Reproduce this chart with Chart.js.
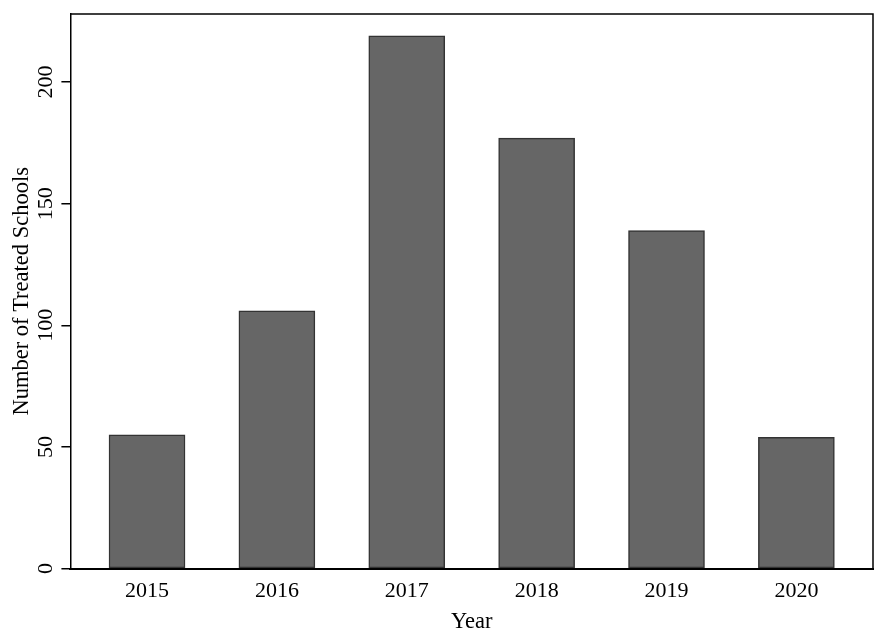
<!DOCTYPE html>
<html>
<head>
<meta charset="utf-8">
<script src="https://cdn.jsdelivr.net/npm/chart.js@4/dist/chart.umd.min.js"></script>
<style>
  html, body { margin: 0; padding: 0; background: #ffffff; }
  #wrap { width: 886px; height: 638px; position: relative; }
</style>
</head>
<body>
<div id="wrap"><canvas id="c" width="886" height="638"></canvas></div>
<script>
const years = [2015, 2016, 2017, 2018, 2019, 2020];
const treatedSchools = [55, 106, 219, 177, 139, 54];
const yTicks = [0, 50, 100, 150, 200];
const xTitle = "Year";
const yTitle = "Number of Treated Schools";

const FONT = "'Liberation Serif', 'Times New Roman', serif";

const framePlugin = {
  id: 'frame',
  afterDatasetsDraw(chart) {
    const { ctx, chartArea: a } = chart;
    ctx.save();
    ctx.strokeStyle = '#000';
    ctx.lineWidth = 1.5;
    ctx.beginPath();
    ctx.moveTo(a.left, a.top);
    ctx.lineTo(a.right, a.top);
    ctx.lineTo(a.right, a.bottom);
    ctx.stroke();
    ctx.restore();
  }
};

new Chart(document.getElementById('c'), {
  type: 'bar',
  data: {
    datasets: [{
      data: years.map((yr, i) => ({ x: yr, y: treatedSchools[i] })),
      backgroundColor: '#666666',
      borderColor: '#333333',
      borderWidth: 1.5,
      barThickness: 76,
      borderSkipped: false
    }]
  },
  options: {
    responsive: false,
    animation: false,
    devicePixelRatio: 1,
    layout: { padding: { top: 14, right: 13, left: 9, bottom: 1 } },
    plugins: { legend: { display: false }, tooltip: { enabled: false } },
    scales: {
      x: {
        type: 'linear',
        offset: false,
        min: 2014.41,
        max: 2020.59,
        afterBuildTicks: (axis) => { axis.ticks = years.map(v => ({ value: v })); },
        grid: { display: false, offset: false },
        border: { display: true, color: '#000', width: 2 },
        ticks: {
          color: '#000',
          font: { family: FONT, size: 22 },
          padding: 1,
          callback: (v) => String(v)
        },
        title: {
          display: true,
          text: xTitle,
          color: '#000',
          font: { family: FONT, size: 22.5 },
          padding: { top: 4, bottom: 1 }
        }
      },
      y: {
        min: 0,
        max: 228,
        afterBuildTicks: (axis) => { axis.ticks = yTicks.map(v => ({ value: v })); },
        grid: {
          display: true,
          drawOnChartArea: false,
          drawTicks: true,
          tickLength: 9,
          tickColor: '#000',
          lineWidth: 1.5
        },
        border: { display: true, color: '#000', width: 1.5 },
        ticks: {
          color: '#000',
          font: { family: FONT, size: 22 },
          minRotation: 90,
          maxRotation: 90,
          crossAlign: 'center',
          padding: -1
        },
        title: {
          display: true,
          text: yTitle,
          color: '#000',
          font: { family: FONT, size: 22.5 },
          padding: { top: 0, bottom: 1 }
        }
      }
    }
  },
  plugins: [framePlugin]
});
</script>
</body>
</html>
